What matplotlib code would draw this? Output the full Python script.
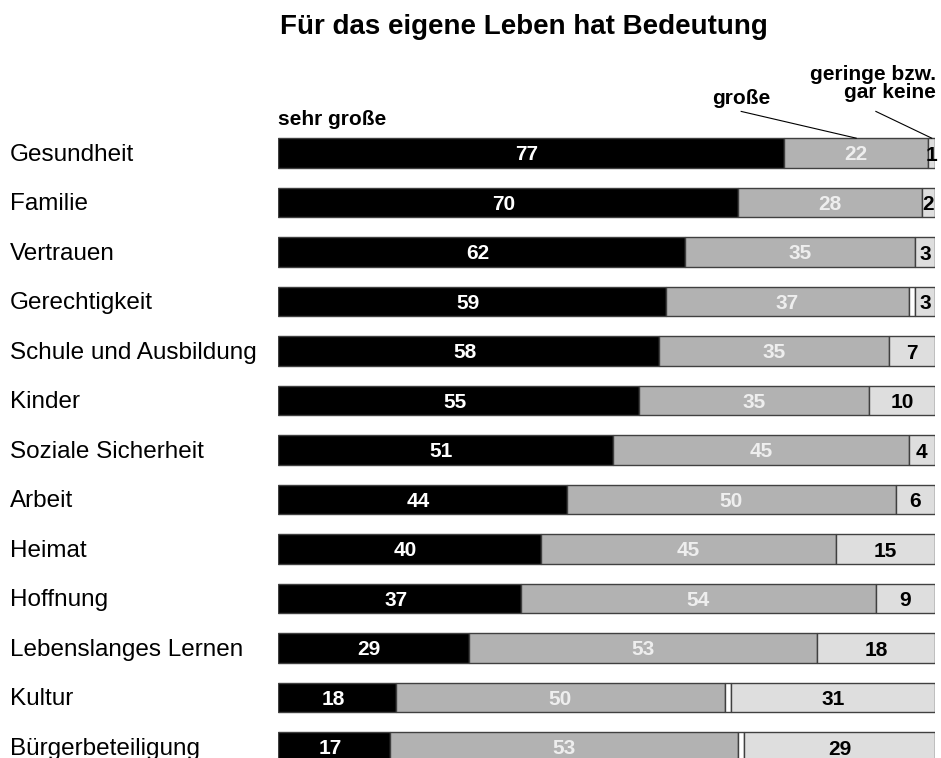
import matplotlib.pyplot as plt
import matplotlib.transforms as mtransforms

plt.rcParams['font.family'] = ['Liberation Sans', 'DejaVu Sans']

# data
categories = ['Gesundheit', 'Familie', 'Vertrauen', 'Gerechtigkeit',
              'Schule und Ausbildung', 'Kinder', 'Soziale Sicherheit',
              'Arbeit', 'Heimat', 'Hoffnung', 'Lebenslanges Lernen',
              'Kultur', 'Bürgerbeteiligung']
sehr_gross = [77, 70, 62, 59, 58, 55, 51, 44, 40, 37, 29, 18, 17]
gross      = [22, 28, 35, 37, 35, 35, 45, 50, 45, 54, 53, 50, 53]
gering     = [1, 2, 3, 3, 7, 10, 4, 6, 15, 9, 18, 31, 29]

C_BLACK = '#000000'
C_GRAY = '#b2b2b2'
C_LIGHT = '#dedede'
EDGE = '#404040'
H = 0.6

fig = plt.figure(figsize=(9.41, 7.58), dpi=100)
ax = fig.add_axes([278 / 941, 0, 657 / 941, 1])
ax.set_xlim(0, 100)
ax.set_ylim((758 - 153) / 49.5, -153 / 49.5)
ax.axis('off')

ys = range(len(categories))
for y, a, b, c in zip(ys, sehr_gross, gross, gering):
    rest = 100 - a - b - c
    ax.barh(y, a, left=0, height=H, color=C_BLACK, edgecolor=EDGE, lw=1)
    ax.barh(y, b, left=a, height=H, color=C_GRAY, edgecolor=EDGE, lw=1)
    if rest > 0:
        ax.barh(y, rest, left=a + b, height=H, color='white', edgecolor=EDGE, lw=1)
    ax.barh(y, c, left=100 - c, height=H, color=C_LIGHT, edgecolor=EDGE, lw=1)
    kw = dict(ha='center', va='center', fontsize=15, fontweight='bold')
    ax.text(a / 2 - 0.6, y + 0.04, str(a), color='white', **kw)
    ax.text(a + b / 2, y + 0.04, str(b), color='#eeeeee', **kw)
    ax.text(100 - c / 2, y + 0.05, str(c), color='black', **kw)

# category labels
tr = mtransforms.blended_transform_factory(fig.transFigure, ax.transData)
for y, name in zip(ys, categories):
    ax.text(10 / 941, y + 0.04, name, transform=tr, ha='left', va='center',
            fontsize=17.5, color='black')

# header labels
ax.text(0, -0.68, 'sehr große', ha='left', va='center', fontsize=15,
        fontweight='bold')
ax.text(70.5, -1.1, 'große', ha='center', va='center', fontsize=15,
        fontweight='bold')
ax.text(100.2, -1.4, 'geringe bzw.\ngar keine', ha='right', va='center',
        fontsize=15, fontweight='bold', linespacing=0.9)
ax.plot([70.5, sehr_gross[0] + gross[0] / 2], [-0.84, -H / 2], color='black', lw=0.8)
ax.plot([91, 100 - gering[0] / 2], [-0.84, -H / 2], color='black', lw=0.8)

fig.text(0.557, 0.965, 'Für das eigene Leben hat Bedeutung', ha='center',
         va='center', fontsize=20, fontweight='bold')

fig.savefig('out.png', dpi=100)
